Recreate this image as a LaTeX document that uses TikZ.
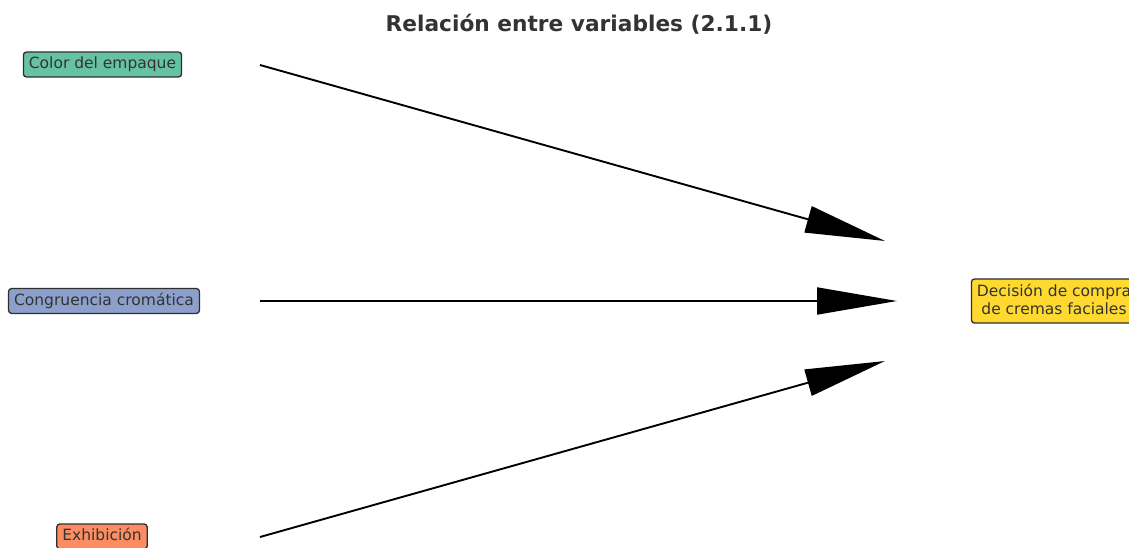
\documentclass[tikz,border=0pt]{standalone}
\usepackage{fontspec}
\setmainfont{DejaVu Sans}
\usetikzlibrary{arrows.meta}
\definecolor{cgreen}{HTML}{66C2A5}
\definecolor{cblue}{HTML}{8DA0CB}
\definecolor{corange}{HTML}{FC8D62}
\definecolor{cyellow}{HTML}{FFD92F}
\definecolor{txt}{HTML}{333333}
\newcommand\lnstrut{\rule[-3.7pt]{0pt}{15.5pt}}
\tikzset{
  varbase/.style={draw=txt!90!black, line width=1.3pt, rounded corners=3pt,
    inner xsep=5.5pt, inner ysep=4.7pt, text=txt,
    font=\fontsize{15.5}{18.6}\selectfont, align=center},
  varbox/.style={varbase, text height=11.8pt, text depth=3.7pt},
  rel/.style={line width=1.9pt, black, -{Triangle[length=80pt, width=27pt]}},
}
\begin{document}
\begin{tikzpicture}[x=1pt,y=1pt]
\useasboundingbox (0,0) rectangle (1129,-548);
\clip (0,0) rectangle (1129,-548);
\node[anchor=base, text=txt, font=\fontsize{21.7}{26}\selectfont\bfseries] (title) at (579,-31.5) {Relación entre variables (2.1.1)};
\node[varbox, fill=cgreen] (color) at (102.5,-64.5) {Color del empaque};
\node[varbox, fill=cblue] (cong) at (104,-301) {Congruencia cromática};
\node[varbox, fill=corange] (exh) at (102,-536.5) {Exhibición};
\node[varbase, fill=cyellow] (dec) at (1054,-301) {\lnstrut Decisión de compra\\\lnstrut de cremas faciales};
\coordinate (s1) at (260,-65);
\coordinate (e1) at (885,-241);
\coordinate (s2) at (260,-301);
\coordinate (e2) at (897,-301);
\coordinate (s3) at (260,-537);
\coordinate (e3) at (885,-361);
\draw[rel] (s1) -- (e1);
\draw[rel] (s2) -- (e2);
\draw[rel] (s3) -- (e3);
\end{tikzpicture}
\end{document}
